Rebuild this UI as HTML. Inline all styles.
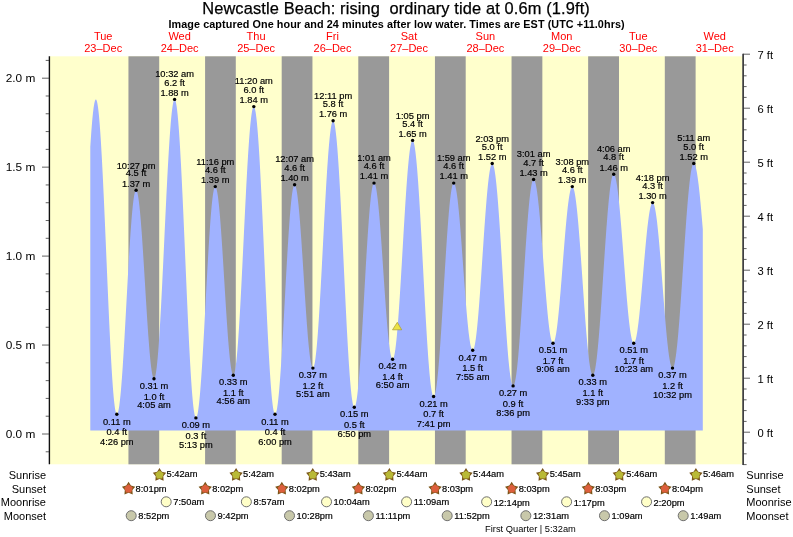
<!DOCTYPE html>
<html><head><meta charset="utf-8"><title>Newcastle Beach tide chart</title>
<style>html,body{margin:0;padding:0;background:#fff}svg{display:block}text{font-family:"Liberation Sans",Arial,Helvetica,sans-serif;fill:#000}.s text{stroke:#000;stroke-width:.18px}</style></head><body>
<svg width="793" height="537" viewBox="0 0 793 537">
<rect width="793" height="537" fill="#fff"/>
<rect x="50" y="56.3" width="692.3" height="408.0" fill="#ffffcc"/>
<rect x="128.44" y="56.3" width="30.76" height="408.0" fill="#999999"/>
<rect x="205.09" y="56.3" width="30.70" height="408.0" fill="#999999"/>
<rect x="281.69" y="56.3" width="30.76" height="408.0" fill="#999999"/>
<rect x="358.29" y="56.3" width="30.81" height="408.0" fill="#999999"/>
<rect x="434.94" y="56.3" width="30.76" height="408.0" fill="#999999"/>
<rect x="511.54" y="56.3" width="30.81" height="408.0" fill="#999999"/>
<rect x="588.14" y="56.3" width="30.86" height="408.0" fill="#999999"/>
<rect x="664.80" y="56.3" width="30.81" height="408.0" fill="#999999"/>
<path d="M90.30,430.5L90.30,146.87L90.63,141.68L90.97,136.75L91.30,132.07L91.63,127.67L91.97,123.56L92.30,119.74L92.63,116.22L92.97,113.03L93.30,110.15L93.63,107.60L93.97,105.39L94.30,103.53L94.63,102.01L94.97,100.84L95.30,100.02L95.63,99.56L95.97,99.46L96.30,99.74L96.64,100.41L96.97,101.47L97.30,102.92L97.64,104.76L97.97,106.98L98.30,109.57L98.64,112.53L98.97,115.85L99.30,119.52L99.64,123.54L99.97,127.89L100.30,132.56L100.64,137.54L100.97,142.82L101.30,148.39L101.64,154.22L101.97,160.32L102.30,166.65L102.64,173.21L102.97,179.98L103.30,186.94L103.64,194.08L103.97,201.37L104.30,208.80L104.64,216.35L104.97,224.01L105.30,231.74L105.64,239.54L105.97,247.38L106.30,255.25L106.64,263.12L106.97,270.97L107.30,278.79L107.64,286.56L107.97,294.25L108.30,301.84L108.64,309.33L108.97,316.68L109.31,323.88L109.64,330.92L109.97,337.77L110.31,344.42L110.64,350.85L110.97,357.05L111.31,362.99L111.64,368.67L111.97,374.07L112.31,379.18L112.64,383.98L112.97,388.47L113.31,392.63L113.64,396.44L113.97,399.91L114.31,403.02L114.64,405.77L114.97,408.14L115.31,410.14L115.64,411.75L115.97,412.97L116.31,413.81L116.64,414.25L116.97,414.31L117.31,414.02L117.64,413.39L117.97,412.44L118.31,411.16L118.64,409.55L118.97,407.63L119.31,405.39L119.64,402.84L119.97,400.00L120.31,396.87L120.64,393.45L120.98,389.76L121.31,385.81L121.64,381.62L121.98,377.18L122.31,372.53L122.64,367.66L122.98,362.60L123.31,357.37L123.64,351.96L123.98,346.41L124.31,340.73L124.64,334.93L124.98,329.04L125.31,323.07L125.64,317.03L125.98,310.95L126.31,304.85L126.64,298.74L126.98,292.63L127.31,286.56L127.64,280.53L127.98,274.57L128.31,268.69L128.64,262.91L128.98,257.25L129.31,251.72L129.64,246.34L129.98,241.13L130.31,236.10L130.64,231.26L130.98,226.64L131.31,222.24L131.64,218.08L131.98,214.17L132.31,210.53L132.64,207.15L132.98,204.06L133.31,201.26L133.65,198.76L133.98,196.57L134.31,194.69L134.65,193.14L134.98,191.90L135.31,191.00L135.65,190.43L135.98,190.19L136.31,190.27L136.65,190.68L136.98,191.41L137.31,192.45L137.65,193.81L137.98,195.47L138.31,197.43L138.65,199.69L138.98,202.24L139.31,205.07L139.65,208.16L139.98,211.52L140.31,215.12L140.65,218.96L140.98,223.02L141.31,227.29L141.65,231.75L141.98,236.39L142.31,241.19L142.65,246.15L142.98,251.23L143.31,256.42L143.65,261.71L143.98,267.08L144.31,272.50L144.65,277.97L144.98,283.46L145.31,288.95L145.65,294.42L145.98,299.87L146.32,305.26L146.65,310.57L146.98,315.81L147.32,320.93L147.65,325.93L147.98,330.79L148.32,335.49L148.65,340.02L148.98,344.37L149.32,348.50L149.65,352.42L149.98,356.11L150.32,359.56L150.65,362.75L150.98,365.68L151.32,368.33L151.65,370.70L151.98,372.77L152.32,374.55L152.65,376.01L152.98,377.17L153.32,378.02L153.65,378.54L153.98,378.75L154.32,378.62L154.65,378.13L154.98,377.28L155.32,376.07L155.65,374.51L155.98,372.60L156.32,370.34L156.65,367.75L156.98,364.82L157.32,361.56L157.65,357.99L157.99,354.11L158.32,349.93L158.65,345.47L158.99,340.73L159.32,335.72L159.65,330.47L159.99,324.98L160.32,319.27L160.65,313.35L160.99,307.24L161.32,300.95L161.65,294.50L161.99,287.91L162.32,281.19L162.65,274.36L162.99,267.44L163.32,260.45L163.65,253.41L163.99,246.32L164.32,239.22L164.65,232.12L164.99,225.03L165.32,217.98L165.65,210.99L165.99,204.07L166.32,197.24L166.65,190.52L166.99,183.92L167.32,177.47L167.65,171.17L167.99,165.05L168.32,159.13L168.65,153.41L168.99,147.91L169.32,142.65L169.65,137.64L169.99,132.89L170.32,128.41L170.66,124.23L170.99,120.34L171.32,116.75L171.66,113.49L171.99,110.55L172.32,107.94L172.66,105.67L172.99,103.74L173.32,102.17L173.66,100.95L173.99,100.09L174.32,99.59L174.66,99.45L174.99,99.69L175.32,100.30L175.66,101.30L175.99,102.68L176.32,104.44L176.66,106.57L176.99,109.06L177.32,111.92L177.66,115.12L177.99,118.68L178.32,122.57L178.66,126.79L178.99,131.33L179.32,136.17L179.66,141.31L179.99,146.74L180.32,152.43L180.66,158.38L180.99,164.57L181.32,170.99L181.66,177.62L181.99,184.45L182.33,191.45L182.66,198.62L182.99,205.93L183.33,213.36L183.66,220.91L183.99,228.55L184.33,236.26L184.66,244.02L184.99,251.82L185.33,259.64L185.66,267.46L185.99,275.25L186.33,283.00L186.66,290.70L186.99,298.31L187.33,305.83L187.66,313.24L187.99,320.52L188.33,327.65L188.66,334.61L188.99,341.39L189.33,347.96L189.66,354.33L189.99,360.46L190.33,366.35L190.66,371.97L190.99,377.33L191.33,382.40L191.66,387.17L191.99,391.63L192.33,395.77L192.66,399.58L192.99,403.04L193.33,406.17L193.66,408.93L193.99,411.33L194.33,413.37L194.66,415.03L195.00,416.32L195.33,417.22L195.66,417.75L196.00,417.89L196.33,417.67L196.66,417.11L197.00,416.22L197.33,414.99L197.66,413.43L198.00,411.54L198.33,409.33L198.66,406.81L199.00,403.97L199.33,400.84L199.66,397.42L200.00,393.72L200.33,389.75L200.66,385.52L201.00,381.05L201.33,376.34L201.66,371.42L202.00,366.29L202.33,360.98L202.66,355.49L203.00,349.85L203.33,344.06L203.66,338.16L204.00,332.14L204.33,326.04L204.66,319.87L205.00,313.65L205.33,307.39L205.66,301.12L206.00,294.86L206.33,288.61L206.66,282.40L207.00,276.26L207.33,270.19L207.67,264.21L208.00,258.34L208.33,252.61L208.67,247.02L209.00,241.59L209.33,236.34L209.67,231.29L210.00,226.44L210.33,221.82L210.67,217.43L211.00,213.30L211.33,209.42L211.67,205.82L212.00,202.50L212.33,199.48L212.67,196.76L213.00,194.34L213.33,192.25L213.67,190.48L214.00,189.04L214.33,187.93L214.67,187.16L215.00,186.72L215.33,186.63L215.67,186.86L216.00,187.40L216.33,188.26L216.67,189.43L217.00,190.90L217.33,192.68L217.67,194.75L218.00,197.11L218.33,199.76L218.67,202.67L219.00,205.85L219.34,209.28L219.67,212.95L220.00,216.84L220.34,220.95L220.67,225.27L221.00,229.77L221.34,234.44L221.67,239.26L222.00,244.23L222.34,249.32L222.67,254.52L223.00,259.80L223.34,265.15L223.67,270.56L224.00,276.00L224.34,281.46L224.67,286.92L225.00,292.36L225.34,297.75L225.67,303.10L226.00,308.36L226.34,313.54L226.67,318.60L227.00,323.54L227.34,328.34L227.67,332.98L228.00,337.44L228.34,341.71L228.67,345.78L229.00,349.63L229.34,353.25L229.67,356.63L230.00,359.76L230.34,362.62L230.67,365.20L231.00,367.51L231.34,369.52L231.67,371.24L232.01,372.65L232.34,373.75L232.67,374.55L233.01,375.03L233.34,375.19L233.67,375.02L234.01,374.50L234.34,373.63L234.67,372.41L235.01,370.84L235.34,368.93L235.67,366.68L236.01,364.10L236.34,361.20L236.67,357.98L237.01,354.46L237.34,350.63L237.67,346.52L238.01,342.13L238.34,337.47L238.67,332.56L239.01,327.41L239.34,322.03L239.67,316.44L240.01,310.65L240.34,304.67L240.67,298.53L241.01,292.24L241.34,285.81L241.67,279.26L242.01,272.61L242.34,265.88L242.67,259.09L243.01,252.24L243.34,245.37L243.68,238.48L244.01,231.60L244.34,224.74L244.68,217.93L245.01,211.18L245.34,204.50L245.68,197.92L246.01,191.45L246.34,185.12L246.68,178.93L247.01,172.90L247.34,167.05L247.68,161.40L248.01,155.95L248.34,150.73L248.68,145.75L249.01,141.01L249.34,136.54L249.68,132.34L250.01,128.43L250.34,124.81L250.68,121.50L251.01,118.50L251.34,115.82L251.68,113.48L252.01,111.46L252.34,109.79L252.68,108.46L253.01,107.48L253.34,106.85L253.68,106.58L254.01,106.66L254.34,107.11L254.68,107.94L255.01,109.13L255.34,110.69L255.68,112.62L256.01,114.90L256.35,117.53L256.68,120.52L257.01,123.84L257.35,127.49L257.68,131.46L258.01,135.75L258.35,140.33L258.68,145.21L259.01,150.37L259.35,155.80L259.68,161.48L260.01,167.39L260.35,173.54L260.68,179.89L261.01,186.44L261.35,193.17L261.68,200.06L262.01,207.10L262.35,214.27L262.68,221.55L263.01,228.92L263.35,236.37L263.68,243.88L264.01,251.43L264.35,259.00L264.68,266.57L265.01,274.13L265.35,281.66L265.68,289.13L266.01,296.54L266.35,303.85L266.68,311.07L267.01,318.16L267.35,325.11L267.68,331.90L268.02,338.52L268.35,344.95L268.68,351.18L269.02,357.18L269.35,362.96L269.68,368.48L270.02,373.74L270.35,378.73L270.68,383.43L271.02,387.83L271.35,391.93L271.68,395.70L272.02,399.15L272.35,402.26L272.68,405.03L273.02,407.45L273.35,409.51L273.68,411.21L274.02,412.54L274.35,413.51L274.68,414.11L275.02,414.33L275.35,414.20L275.68,413.73L276.02,412.94L276.35,411.83L276.68,410.39L277.02,408.63L277.35,406.55L277.68,404.17L278.02,401.49L278.35,398.52L278.68,395.26L279.02,391.72L279.35,387.92L279.68,383.87L280.02,379.57L280.35,375.04L280.69,370.30L281.02,365.35L281.35,360.21L281.69,354.90L282.02,349.43L282.35,343.81L282.69,338.07L283.02,332.22L283.35,326.27L283.69,320.25L284.02,314.17L284.35,308.04L284.69,301.89L285.02,295.74L285.35,289.59L285.69,283.48L286.02,277.41L286.35,271.40L286.69,265.48L287.02,259.65L287.35,253.94L287.69,248.36L288.02,242.92L288.35,237.66L288.69,232.56L289.02,227.67L289.35,222.97L289.69,218.50L290.02,214.27L290.35,210.27L290.69,206.54L291.02,203.07L291.35,199.88L291.69,196.98L292.02,194.37L292.35,192.07L292.69,190.07L293.02,188.39L293.36,187.03L293.69,186.00L294.02,185.29L294.36,184.91L294.69,184.86L295.02,185.11L295.36,185.67L295.69,186.52L296.02,187.67L296.36,189.10L296.69,190.83L297.02,192.83L297.36,195.11L297.69,197.65L298.02,200.45L298.36,203.51L298.69,206.80L299.02,210.31L299.36,214.05L299.69,217.99L300.02,222.12L300.36,226.43L300.69,230.90L301.02,235.53L301.36,240.28L301.69,245.16L302.02,250.13L302.36,255.20L302.69,260.33L303.02,265.52L303.36,270.74L303.69,275.98L304.02,281.22L304.36,286.45L304.69,291.64L305.03,296.79L305.36,301.87L305.69,306.86L306.03,311.75L306.36,316.53L306.69,321.18L307.03,325.68L307.36,330.02L307.69,334.19L308.03,338.16L308.36,341.94L308.69,345.50L309.03,348.83L309.36,351.92L309.69,354.77L310.03,357.37L310.36,359.69L310.69,361.75L311.03,363.52L311.36,365.01L311.69,366.21L312.03,367.12L312.36,367.72L312.69,368.03L313.03,368.04L313.36,367.72L313.69,367.07L314.03,366.09L314.36,364.78L314.69,363.15L315.03,361.20L315.36,358.93L315.69,356.36L316.03,353.49L316.36,350.33L316.69,346.88L317.03,343.16L317.36,339.17L317.70,334.93L318.03,330.44L318.36,325.72L318.70,320.79L319.03,315.65L319.36,310.32L319.70,304.81L320.03,299.14L320.36,293.32L320.70,287.38L321.03,281.31L321.36,275.15L321.70,268.91L322.03,262.60L322.36,256.24L322.70,249.85L323.03,243.44L323.36,237.04L323.70,230.66L324.03,224.31L324.36,218.02L324.70,211.80L325.03,205.66L325.36,199.64L325.70,193.73L326.03,187.95L326.36,182.33L326.70,176.88L327.03,171.61L327.36,166.53L327.70,161.66L328.03,157.01L328.36,152.60L328.70,148.44L329.03,144.53L329.37,140.89L329.70,137.53L330.03,134.46L330.37,131.68L330.70,129.20L331.03,127.04L331.37,125.19L331.70,123.65L332.03,122.45L332.37,121.57L332.70,121.02L333.03,120.80L333.37,120.92L333.70,121.39L334.03,122.20L334.37,123.36L334.70,124.87L335.03,126.71L335.37,128.88L335.70,131.39L336.03,134.22L336.37,137.36L336.70,140.82L337.03,144.57L337.37,148.61L337.70,152.94L338.03,157.53L338.37,162.39L338.70,167.49L339.03,172.82L339.37,178.38L339.70,184.15L340.03,190.11L340.37,196.25L340.70,202.56L341.03,209.02L341.37,215.61L341.70,222.31L342.04,229.12L342.37,236.02L342.70,242.98L343.04,250.00L343.37,257.04L343.70,264.11L344.04,271.17L344.37,278.22L344.70,285.23L345.04,292.19L345.37,299.09L345.70,305.89L346.04,312.60L346.37,319.18L346.70,325.64L347.04,331.94L347.37,338.08L347.70,344.03L348.04,349.79L348.37,355.35L348.70,360.68L349.04,365.77L349.37,370.62L349.70,375.20L350.04,379.52L350.37,383.56L350.70,387.30L351.04,390.74L351.37,393.88L351.70,396.70L352.04,399.19L352.37,401.36L352.70,403.19L353.04,404.69L353.37,405.84L353.71,406.64L354.04,407.10L354.37,407.21L354.71,406.99L355.04,406.46L355.37,405.62L355.71,404.46L356.04,403.00L356.37,401.23L356.71,399.16L357.04,396.80L357.37,394.15L357.71,391.23L358.04,388.03L358.37,384.58L358.71,380.87L359.04,376.92L359.37,372.74L359.71,368.34L360.04,363.73L360.37,358.93L360.71,353.95L361.04,348.81L361.37,343.51L361.71,338.08L362.04,332.53L362.37,326.87L362.71,321.12L363.04,315.30L363.37,309.43L363.71,303.51L364.04,297.57L364.37,291.62L364.71,285.68L365.04,279.77L365.37,273.90L365.71,268.09L366.04,262.36L366.38,256.72L366.71,251.19L367.04,245.78L367.38,240.51L367.71,235.40L368.04,230.45L368.38,225.69L368.71,221.12L369.04,216.76L369.38,212.62L369.71,208.71L370.04,205.05L370.38,201.64L370.71,198.49L371.04,195.62L371.38,193.02L371.71,190.71L372.04,188.70L372.38,186.99L372.71,185.58L373.04,184.48L373.38,183.69L373.71,183.22L374.04,183.06L374.38,183.20L374.71,183.62L375.04,184.32L375.38,185.29L375.71,186.54L376.04,188.05L376.38,189.83L376.71,191.87L377.04,194.17L377.38,196.70L377.71,199.48L378.04,202.48L378.38,205.70L378.71,209.13L379.05,212.75L379.38,216.56L379.71,220.55L380.05,224.69L380.38,228.99L380.71,233.41L381.05,237.96L381.38,242.61L381.71,247.36L382.05,252.18L382.38,257.06L382.71,261.98L383.05,266.94L383.38,271.90L383.71,276.87L384.05,281.81L384.38,286.73L384.71,291.59L385.05,296.39L385.38,301.10L385.71,305.72L386.05,310.24L386.38,314.62L386.71,318.87L387.05,322.97L387.38,326.90L387.71,330.65L388.05,334.22L388.38,337.58L388.71,340.73L389.05,343.66L389.38,346.36L389.71,348.82L390.05,351.04L390.38,353.00L390.72,354.69L391.05,356.13L391.38,357.29L391.72,358.18L392.05,358.79L392.38,359.12L392.72,359.17L393.05,358.92L393.38,358.37L393.72,357.53L394.05,356.38L394.38,354.94L394.72,353.22L395.05,351.20L395.38,348.91L395.72,346.35L396.05,343.51L396.38,340.42L396.72,337.08L397.05,333.50L397.38,329.69L397.72,325.66L398.05,321.42L398.38,316.98L398.72,312.35L399.05,307.56L399.38,302.60L399.72,297.50L400.05,292.27L400.38,286.92L400.72,281.46L401.05,275.92L401.38,270.31L401.72,264.64L402.05,258.93L402.38,253.20L402.72,247.45L403.05,241.72L403.39,236.00L403.72,230.32L404.05,224.70L404.39,219.14L404.72,213.67L405.05,208.30L405.39,203.04L405.72,197.92L406.05,192.93L406.39,188.10L406.72,183.44L407.05,178.97L407.39,174.69L407.72,170.62L408.05,166.76L408.39,163.13L408.72,159.75L409.05,156.61L409.39,153.73L409.72,151.11L410.05,148.76L410.39,146.70L410.72,144.91L411.05,143.42L411.39,142.22L411.72,141.31L412.05,140.71L412.39,140.40L412.72,140.40L413.05,140.72L413.39,141.35L413.72,142.29L414.05,143.54L414.39,145.11L414.72,146.98L415.06,149.15L415.39,151.61L415.72,154.36L416.06,157.40L416.39,160.71L416.72,164.29L417.06,168.12L417.39,172.20L417.72,176.52L418.06,181.07L418.39,185.83L418.72,190.80L419.06,195.96L419.39,201.30L419.72,206.80L420.06,212.46L420.39,218.25L420.72,224.17L421.06,230.20L421.39,236.32L421.72,242.53L422.06,248.79L422.39,255.11L422.72,261.46L423.06,267.82L423.39,274.19L423.72,280.54L424.06,286.87L424.39,293.15L424.72,299.36L425.06,305.50L425.39,311.55L425.72,317.49L426.06,323.31L426.39,329.00L426.72,334.54L427.06,339.91L427.39,345.10L427.73,350.11L428.06,354.91L428.39,359.50L428.73,363.87L429.06,368.00L429.39,371.88L429.73,375.51L430.06,378.87L430.39,381.96L430.73,384.77L431.06,387.30L431.39,389.52L431.73,391.45L432.06,393.08L432.39,394.39L432.73,395.40L433.06,396.09L433.39,396.47L433.73,396.53L434.06,396.29L434.39,395.77L434.73,394.96L435.06,393.86L435.39,392.48L435.73,390.82L436.06,388.89L436.39,386.69L436.73,384.23L437.06,381.51L437.39,378.54L437.73,375.33L438.06,371.89L438.39,368.22L438.73,364.34L439.06,360.27L439.39,356.00L439.73,351.55L440.06,346.93L440.40,342.16L440.73,337.24L441.06,332.20L441.40,327.04L441.73,321.78L442.06,316.43L442.40,311.02L442.73,305.54L443.06,300.02L443.40,294.47L443.73,288.92L444.06,283.36L444.40,277.82L444.73,272.31L445.06,266.85L445.40,261.46L445.73,256.14L446.06,250.91L446.40,245.78L446.73,240.78L447.06,235.91L447.40,231.19L447.73,226.62L448.06,222.23L448.40,218.02L448.73,214.00L449.06,210.19L449.40,206.60L449.73,203.23L450.06,200.09L450.40,197.20L450.73,194.56L451.06,192.18L451.40,190.07L451.73,188.22L452.07,186.65L452.40,185.36L452.73,184.36L453.07,183.64L453.40,183.20L453.73,183.06L454.07,183.19L454.40,183.58L454.73,184.21L455.07,185.11L455.40,186.25L455.73,187.63L456.07,189.26L456.40,191.13L456.73,193.22L457.07,195.54L457.40,198.08L457.73,200.83L458.07,203.78L458.40,206.92L458.73,210.25L459.07,213.75L459.40,217.41L459.73,221.22L460.07,225.17L460.40,229.24L460.73,233.43L461.07,237.72L461.40,242.11L461.73,246.56L462.07,251.08L462.40,255.64L462.73,260.24L463.07,264.86L463.40,269.49L463.73,274.10L464.07,278.69L464.40,283.25L464.74,287.76L465.07,292.20L465.40,296.56L465.74,300.83L466.07,305.00L466.40,309.05L466.74,312.97L467.07,316.75L467.40,320.37L467.74,323.83L468.07,327.12L468.40,330.22L468.74,333.13L469.07,335.83L469.40,338.32L469.74,340.60L470.07,342.64L470.40,344.46L470.74,346.04L471.07,347.37L471.40,348.46L471.74,349.29L472.07,349.88L472.40,350.21L472.74,350.28L473.07,350.09L473.40,349.63L473.74,348.91L474.07,347.93L474.40,346.68L474.74,345.18L475.07,343.42L475.40,341.42L475.74,339.17L476.07,336.69L476.41,333.98L476.74,331.05L477.07,327.91L477.41,324.56L477.74,321.02L478.07,317.30L478.41,313.40L478.74,309.35L479.07,305.14L479.41,300.79L479.74,296.32L480.07,291.74L480.41,287.05L480.74,282.28L481.07,277.44L481.41,272.53L481.74,267.59L482.07,262.61L482.41,257.62L482.74,252.62L483.07,247.64L483.41,242.68L483.74,237.76L484.07,232.90L484.41,228.11L484.74,223.39L485.07,218.78L485.41,214.27L485.74,209.89L486.07,205.64L486.41,201.54L486.74,197.59L487.07,193.82L487.41,190.22L487.74,186.82L488.07,183.62L488.41,180.63L488.74,177.85L489.08,175.30L489.41,172.99L489.74,170.91L490.08,169.09L490.41,167.51L490.74,166.19L491.08,165.13L491.41,164.33L491.74,163.79L492.08,163.53L492.41,163.53L492.74,163.81L493.08,164.36L493.41,165.20L493.74,166.31L494.08,167.69L494.41,169.34L494.74,171.25L495.08,173.42L495.41,175.85L495.74,178.53L496.08,181.44L496.41,184.59L496.74,187.97L497.08,191.57L497.41,195.37L497.74,199.37L498.08,203.56L498.41,207.93L498.74,212.47L499.08,217.17L499.41,222.00L499.74,226.97L500.08,232.06L500.41,237.26L500.75,242.55L501.08,247.92L501.41,253.36L501.75,258.85L502.08,264.39L502.41,269.94L502.75,275.51L503.08,281.08L503.41,286.63L503.75,292.15L504.08,297.63L504.41,303.05L504.75,308.40L505.08,313.67L505.41,318.83L505.75,323.89L506.08,328.82L506.41,333.62L506.75,338.26L507.08,342.75L507.41,347.07L507.75,351.21L508.08,355.15L508.41,358.89L508.75,362.42L509.08,365.73L509.41,368.81L509.75,371.66L510.08,374.26L510.41,376.61L510.75,378.71L511.08,380.55L511.41,382.11L511.75,383.41L512.08,384.44L512.41,385.19L512.75,385.67L513.08,385.86L513.42,385.78L513.75,385.43L514.08,384.81L514.42,383.92L514.75,382.77L515.08,381.36L515.42,379.69L515.75,377.76L516.08,375.59L516.42,373.17L516.75,370.52L517.08,367.64L517.42,364.53L517.75,361.21L518.08,357.69L518.42,353.97L518.75,350.06L519.08,345.98L519.42,341.73L519.75,337.33L520.08,332.78L520.42,328.10L520.75,323.31L521.08,318.40L521.42,313.41L521.75,308.33L522.08,303.19L522.42,297.99L522.75,292.76L523.08,287.49L523.42,282.22L523.75,276.94L524.08,271.68L524.42,266.45L524.75,261.26L525.08,256.13L525.42,251.07L525.75,246.09L526.09,241.20L526.42,236.43L526.75,231.77L527.09,227.25L527.42,222.88L527.75,218.65L528.09,214.60L528.42,210.73L528.75,207.04L529.09,203.55L529.42,200.27L529.75,197.20L530.09,194.36L530.42,191.75L530.75,189.38L531.09,187.25L531.42,185.37L531.75,183.74L532.09,182.37L532.42,181.27L532.75,180.43L533.09,179.86L533.42,179.56L533.75,179.52L534.09,179.73L534.42,180.18L534.75,180.86L535.09,181.77L535.42,182.92L535.75,184.30L536.09,185.90L536.42,187.72L536.75,189.75L537.09,192.00L537.42,194.44L537.76,197.08L538.09,199.91L538.42,202.91L538.76,206.09L539.09,209.42L539.42,212.91L539.76,216.53L540.09,220.29L540.42,224.17L540.76,228.16L541.09,232.24L541.42,236.40L541.76,240.64L542.09,244.94L542.42,249.29L542.76,253.67L543.09,258.08L543.42,262.49L543.76,266.90L544.09,271.30L544.42,275.66L544.76,279.98L545.09,284.25L545.42,288.46L545.76,292.58L546.09,296.61L546.42,300.54L546.76,304.36L547.09,308.05L547.42,311.61L547.76,315.02L548.09,318.27L548.42,321.36L548.76,324.27L549.09,327.00L549.42,329.54L549.76,331.88L550.09,334.01L550.43,335.93L550.76,337.64L551.09,339.12L551.43,340.38L551.76,341.41L552.09,342.20L552.43,342.76L552.76,343.08L553.09,343.17L553.43,343.02L553.76,342.64L554.09,342.03L554.43,341.19L554.76,340.13L555.09,338.84L555.43,337.33L555.76,335.61L556.09,333.68L556.43,331.55L556.76,329.22L557.09,326.70L557.43,324.00L557.76,321.12L558.09,318.08L558.43,314.87L558.76,311.52L559.09,308.04L559.43,304.42L559.76,300.69L560.09,296.85L560.43,292.92L560.76,288.91L561.09,284.82L561.43,280.67L561.76,276.48L562.10,272.26L562.43,268.01L562.76,263.75L563.10,259.50L563.43,255.26L563.76,251.05L564.10,246.88L564.43,242.77L564.76,238.72L565.10,234.75L565.43,230.86L565.76,227.08L566.10,223.41L566.43,219.86L566.76,216.45L567.10,213.18L567.43,210.06L567.76,207.10L568.10,204.32L568.43,201.71L568.76,199.29L569.10,197.07L569.43,195.04L569.76,193.23L570.10,191.62L570.43,190.23L570.76,189.07L571.10,188.12L571.43,187.41L571.76,186.92L572.10,186.66L572.43,186.64L572.76,186.86L573.10,187.32L573.43,188.03L573.76,188.99L574.10,190.18L574.43,191.61L574.77,193.28L575.10,195.17L575.43,197.29L575.77,199.63L576.10,202.18L576.43,204.93L576.77,207.89L577.10,211.03L577.43,214.36L577.77,217.86L578.10,221.53L578.43,225.35L578.77,229.32L579.10,233.42L579.43,237.64L579.77,241.98L580.10,246.43L580.43,250.96L580.77,255.57L581.10,260.24L581.43,264.97L581.77,269.75L582.10,274.55L582.43,279.36L582.77,284.19L583.10,289.00L583.43,293.79L583.77,298.55L584.10,303.26L584.43,307.92L584.77,312.50L585.10,317.00L585.43,321.41L585.77,325.71L586.10,329.89L586.44,333.94L586.77,337.86L587.10,341.63L587.44,345.23L587.77,348.67L588.10,351.94L588.44,355.01L588.77,357.90L589.10,360.58L589.44,363.05L589.77,365.31L590.10,367.35L590.44,369.16L590.77,370.74L591.10,372.09L591.44,373.20L591.77,374.06L592.10,374.68L592.44,375.06L592.77,375.19L593.10,375.07L593.44,374.70L593.77,374.08L594.10,373.21L594.44,372.09L594.77,370.73L595.10,369.13L595.44,367.29L595.77,365.21L596.10,362.91L596.44,360.39L596.77,357.65L597.10,354.71L597.44,351.56L597.77,348.22L598.10,344.70L598.44,341.00L598.77,337.13L599.11,333.11L599.44,328.94L599.77,324.63L600.11,320.20L600.44,315.66L600.77,311.01L601.11,306.27L601.44,301.45L601.77,296.57L602.11,291.62L602.44,286.64L602.77,281.63L603.11,276.60L603.44,271.56L603.77,266.53L604.11,261.53L604.44,256.55L604.77,251.62L605.11,246.75L605.44,241.95L605.77,237.23L606.11,232.61L606.44,228.09L606.77,223.69L607.11,219.41L607.44,215.28L607.77,211.29L608.11,207.46L608.44,203.80L608.77,200.32L609.11,197.03L609.44,193.93L609.77,191.03L610.11,188.35L610.44,185.88L610.77,183.63L611.11,181.61L611.44,179.83L611.78,178.28L612.11,176.98L612.44,175.92L612.78,175.11L613.11,174.54L613.44,174.23L613.78,174.17L614.11,174.35L614.44,174.76L614.78,175.40L615.11,176.26L615.44,177.35L615.78,178.66L616.11,180.19L616.44,181.93L616.78,183.88L617.11,186.03L617.44,188.39L617.78,190.93L618.11,193.66L618.44,196.57L618.78,199.65L619.11,202.89L619.44,206.28L619.78,209.81L620.11,213.48L620.44,217.26L620.78,221.17L621.11,225.17L621.44,229.27L621.78,233.44L622.11,237.69L622.44,241.99L622.78,246.34L623.11,250.72L623.45,255.12L623.78,259.54L624.11,263.95L624.45,268.34L624.78,272.71L625.11,277.04L625.45,281.32L625.78,285.54L626.11,289.69L626.45,293.75L626.78,297.72L627.11,301.58L627.45,305.32L627.78,308.93L628.11,312.41L628.45,315.74L628.78,318.92L629.11,321.93L629.45,324.77L629.78,327.43L630.11,329.90L630.45,332.17L630.78,334.25L631.11,336.12L631.45,337.78L631.78,339.22L632.11,340.44L632.45,341.44L632.78,342.22L633.11,342.77L633.45,343.08L633.78,343.17L634.11,343.03L634.45,342.68L634.78,342.12L635.11,341.34L635.45,340.35L635.78,339.16L636.12,337.76L636.45,336.16L636.78,334.36L637.12,332.38L637.45,330.21L637.78,327.87L638.12,325.36L638.45,322.69L638.78,319.86L639.12,316.89L639.45,313.79L639.78,310.56L640.12,307.21L640.45,303.76L640.78,300.21L641.12,296.58L641.45,292.87L641.78,289.11L642.12,285.29L642.45,281.44L642.78,277.56L643.12,273.66L643.45,269.76L643.78,265.88L644.12,262.01L644.45,258.18L644.78,254.39L645.12,250.66L645.45,247.00L645.78,243.42L646.12,239.93L646.45,236.54L646.78,233.26L647.12,230.11L647.45,227.08L647.79,224.20L648.12,221.46L648.45,218.89L648.79,216.48L649.12,214.24L649.45,212.19L649.79,210.32L650.12,208.64L650.45,207.17L650.79,205.89L651.12,204.82L651.45,203.96L651.79,203.31L652.12,202.88L652.45,202.66L652.79,202.66L653.12,202.88L653.45,203.34L653.79,204.02L654.12,204.93L654.45,206.06L654.79,207.41L655.12,208.97L655.45,210.75L655.79,212.74L656.12,214.92L656.45,217.30L656.79,219.87L657.12,222.62L657.45,225.55L657.79,228.64L658.12,231.89L658.45,235.28L658.79,238.82L659.12,242.48L659.45,246.26L659.79,250.16L660.12,254.14L660.46,258.22L660.79,262.37L661.12,266.58L661.46,270.85L661.79,275.16L662.12,279.49L662.46,283.84L662.79,288.20L663.12,292.54L663.46,296.87L663.79,301.16L664.12,305.42L664.46,309.61L664.79,313.74L665.12,317.79L665.46,321.75L665.79,325.61L666.12,329.36L666.46,332.98L666.79,336.48L667.12,339.83L667.46,343.03L667.79,346.07L668.12,348.94L668.46,351.64L668.79,354.15L669.12,356.47L669.46,358.60L669.79,360.52L670.12,362.23L670.46,363.73L670.79,365.02L671.12,366.08L671.46,366.92L671.79,367.53L672.12,367.92L672.46,368.07L672.79,367.99L673.13,367.67L673.46,367.09L673.79,366.27L674.13,365.20L674.46,363.89L674.79,362.34L675.13,360.56L675.46,358.54L675.79,356.30L676.13,353.84L676.46,351.16L676.79,348.28L677.13,345.20L677.46,341.92L677.79,338.46L678.13,334.82L678.46,331.01L678.79,327.04L679.13,322.93L679.46,318.67L679.79,314.29L680.13,309.78L680.46,305.18L680.79,300.47L681.13,295.68L681.46,290.82L681.79,285.89L682.13,280.92L682.46,275.91L682.79,270.88L683.13,265.83L683.46,260.79L683.79,255.75L684.13,250.74L684.46,245.77L684.80,240.85L685.13,235.98L685.46,231.19L685.80,226.48L686.13,221.87L686.46,217.37L686.80,212.98L687.13,208.72L687.46,204.61L687.80,200.64L688.13,196.82L688.46,193.18L688.80,189.71L689.13,186.43L689.46,183.35L689.80,180.46L690.13,177.78L690.46,175.31L690.80,173.07L691.13,171.05L691.46,169.26L691.80,167.71L692.13,166.39L692.46,165.32L692.80,164.49L693.13,163.91L693.46,163.58L693.80,163.49L694.13,163.63L694.46,163.98L694.80,164.53L695.13,165.29L695.46,166.25L695.80,167.41L696.13,168.78L696.46,170.33L696.80,172.08L697.13,174.01L697.47,176.13L697.80,178.42L698.13,180.89L698.47,183.52L698.80,186.31L699.13,189.24L699.47,192.33L699.80,195.55L700.13,198.89L700.47,202.36L700.80,205.94L701.13,209.62L701.47,213.40L701.80,217.26L702.13,221.19L702.47,225.19L702.80,229.24L702.80,430.5Z" fill="#a0b2ff"/>
<g stroke="#111" stroke-width="1.4" fill="none">
<line x1="49.4" y1="56.3" x2="49.4" y2="464.3"/>
<line x1="743.1" y1="53.7" x2="743.1" y2="464.90000000000003"/>
</g>
<g stroke="#3a3a3a" stroke-width="0.8" fill="none">
<line x1="45.7" y1="451.79" x2="49" y2="451.79"/>
<line x1="42" y1="434.00" x2="49" y2="434.00"/>
<line x1="45.7" y1="416.21" x2="49" y2="416.21"/>
<line x1="45.7" y1="398.42" x2="49" y2="398.42"/>
<line x1="45.7" y1="380.63" x2="49" y2="380.63"/>
<line x1="45.7" y1="362.84" x2="49" y2="362.84"/>
<line x1="42" y1="345.05" x2="49" y2="345.05"/>
<line x1="45.7" y1="327.26" x2="49" y2="327.26"/>
<line x1="45.7" y1="309.47" x2="49" y2="309.47"/>
<line x1="45.7" y1="291.68" x2="49" y2="291.68"/>
<line x1="45.7" y1="273.89" x2="49" y2="273.89"/>
<line x1="42" y1="256.10" x2="49" y2="256.10"/>
<line x1="45.7" y1="238.31" x2="49" y2="238.31"/>
<line x1="45.7" y1="220.52" x2="49" y2="220.52"/>
<line x1="45.7" y1="202.73" x2="49" y2="202.73"/>
<line x1="45.7" y1="184.94" x2="49" y2="184.94"/>
<line x1="42" y1="167.15" x2="49" y2="167.15"/>
<line x1="45.7" y1="149.36" x2="49" y2="149.36"/>
<line x1="45.7" y1="131.57" x2="49" y2="131.57"/>
<line x1="45.7" y1="113.78" x2="49" y2="113.78"/>
<line x1="45.7" y1="95.99" x2="49" y2="95.99"/>
<line x1="42" y1="78.20" x2="49" y2="78.20"/>
<line x1="45.7" y1="60.41" x2="49" y2="60.41"/>
<line x1="743" y1="464.60" x2="746.6" y2="464.60"/>
<line x1="743" y1="453.80" x2="746.6" y2="453.80"/>
<line x1="743" y1="443.00" x2="746.6" y2="443.00"/>
<line x1="743" y1="432.20" x2="750" y2="432.20"/>
<line x1="743" y1="421.40" x2="746.6" y2="421.40"/>
<line x1="743" y1="410.60" x2="746.6" y2="410.60"/>
<line x1="743" y1="399.80" x2="746.6" y2="399.80"/>
<line x1="743" y1="389.00" x2="746.6" y2="389.00"/>
<line x1="743" y1="378.20" x2="750" y2="378.20"/>
<line x1="743" y1="367.40" x2="746.6" y2="367.40"/>
<line x1="743" y1="356.60" x2="746.6" y2="356.60"/>
<line x1="743" y1="345.80" x2="746.6" y2="345.80"/>
<line x1="743" y1="335.00" x2="746.6" y2="335.00"/>
<line x1="743" y1="324.20" x2="750" y2="324.20"/>
<line x1="743" y1="313.40" x2="746.6" y2="313.40"/>
<line x1="743" y1="302.60" x2="746.6" y2="302.60"/>
<line x1="743" y1="291.80" x2="746.6" y2="291.80"/>
<line x1="743" y1="281.00" x2="746.6" y2="281.00"/>
<line x1="743" y1="270.20" x2="750" y2="270.20"/>
<line x1="743" y1="259.40" x2="746.6" y2="259.40"/>
<line x1="743" y1="248.60" x2="746.6" y2="248.60"/>
<line x1="743" y1="237.80" x2="746.6" y2="237.80"/>
<line x1="743" y1="227.00" x2="746.6" y2="227.00"/>
<line x1="743" y1="216.20" x2="750" y2="216.20"/>
<line x1="743" y1="205.40" x2="746.6" y2="205.40"/>
<line x1="743" y1="194.60" x2="746.6" y2="194.60"/>
<line x1="743" y1="183.80" x2="746.6" y2="183.80"/>
<line x1="743" y1="173.00" x2="746.6" y2="173.00"/>
<line x1="743" y1="162.20" x2="750" y2="162.20"/>
<line x1="743" y1="151.40" x2="746.6" y2="151.40"/>
<line x1="743" y1="140.60" x2="746.6" y2="140.60"/>
<line x1="743" y1="129.80" x2="746.6" y2="129.80"/>
<line x1="743" y1="119.00" x2="746.6" y2="119.00"/>
<line x1="743" y1="108.20" x2="750" y2="108.20"/>
<line x1="743" y1="97.40" x2="746.6" y2="97.40"/>
<line x1="743" y1="86.60" x2="746.6" y2="86.60"/>
<line x1="743" y1="75.80" x2="746.6" y2="75.80"/>
<line x1="743" y1="65.00" x2="746.6" y2="65.00"/>
<line x1="743" y1="54.20" x2="750" y2="54.20"/>
</g>
<g font-size="11.5" text-anchor="end">
<text x="35.3" y="438.2" textLength="29.6" lengthAdjust="spacingAndGlyphs">0.0 m</text>
<text x="35.3" y="349.2" textLength="29.6" lengthAdjust="spacingAndGlyphs">0.5 m</text>
<text x="35.3" y="260.3" textLength="29.6" lengthAdjust="spacingAndGlyphs">1.0 m</text>
<text x="35.3" y="171.3" textLength="29.6" lengthAdjust="spacingAndGlyphs">1.5 m</text>
<text x="35.3" y="82.4" textLength="29.6" lengthAdjust="spacingAndGlyphs">2.0 m</text>
</g>
<g font-size="11.2">
<text x="757.5" y="436.8">0 ft</text>
<text x="757.5" y="382.8">1 ft</text>
<text x="757.5" y="328.8">2 ft</text>
<text x="757.5" y="274.8">3 ft</text>
<text x="757.5" y="220.8">4 ft</text>
<text x="757.5" y="166.8">5 ft</text>
<text x="757.5" y="112.7">6 ft</text>
<text x="757.5" y="58.7">7 ft</text>
</g>
<text x="396" y="13.7" font-size="16.4" stroke="#000" stroke-width="0.25" text-anchor="middle" xml:space="preserve" textLength="387.6" lengthAdjust="spacing">Newcastle Beach: rising  ordinary tide at 0.6m (1.9ft)</text>
<text x="396.55" y="27.8" font-size="10.8" font-weight="bold" text-anchor="middle" textLength="456.1" lengthAdjust="spacing">Image captured One hour and 24 minutes after low water. Times are EST (UTC +11.0hrs)</text>
<g font-size="11" text-anchor="middle" style="fill:#ff0000">
<text x="103.2" y="40.1" style="fill:#f00">Tue</text><text x="103.2" y="51.6" style="fill:#f00">23–Dec</text>
<text x="179.6" y="40.1" style="fill:#f00">Wed</text><text x="179.6" y="51.6" style="fill:#f00">24–Dec</text>
<text x="256.1" y="40.1" style="fill:#f00">Thu</text><text x="256.1" y="51.6" style="fill:#f00">25–Dec</text>
<text x="332.5" y="40.1" style="fill:#f00">Fri</text><text x="332.5" y="51.6" style="fill:#f00">26–Dec</text>
<text x="409.0" y="40.1" style="fill:#f00">Sat</text><text x="409.0" y="51.6" style="fill:#f00">27–Dec</text>
<text x="485.4" y="40.1" style="fill:#f00">Sun</text><text x="485.4" y="51.6" style="fill:#f00">28–Dec</text>
<text x="561.8" y="40.1" style="fill:#f00">Mon</text><text x="561.8" y="51.6" style="fill:#f00">29–Dec</text>
<text x="638.3" y="40.1" style="fill:#f00">Tue</text><text x="638.3" y="51.6" style="fill:#f00">30–Dec</text>
<text x="714.7" y="40.1" style="fill:#f00">Wed</text><text x="714.7" y="51.6" style="fill:#f00">31–Dec</text>
</g>
<g class="s" font-size="9.3" text-anchor="middle">
<text x="116.8" y="424.5">0.11 m</text><text x="116.8" y="435.1">0.4 ft</text><text x="116.8" y="444.5">4:26 pm</text>
<text x="136.1" y="168.6">10:27 pm</text><text x="136.1" y="176.3">4.5 ft</text><text x="136.1" y="186.5">1.37 m</text>
<text x="154.0" y="389.0">0.31 m</text><text x="154.0" y="399.6">1.0 ft</text><text x="154.0" y="408.0">4:05 am</text>
<text x="174.6" y="76.9">10:32 am</text><text x="174.6" y="85.5">6.2 ft</text><text x="174.6" y="95.7">1.88 m</text>
<text x="195.9" y="428.1">0.09 m</text><text x="195.9" y="438.7">0.3 ft</text><text x="195.9" y="448.1">5:13 pm</text>
<text x="215.3" y="165.0">11:16 pm</text><text x="215.3" y="172.7">4.6 ft</text><text x="215.3" y="182.9">1.39 m</text>
<text x="233.3" y="385.4">0.33 m</text><text x="233.3" y="396.0">1.1 ft</text><text x="233.3" y="404.4">4:56 am</text>
<text x="253.8" y="84.1">11:20 am</text><text x="253.8" y="92.7">6.0 ft</text><text x="253.8" y="102.9">1.84 m</text>
<text x="275.0" y="424.5">0.11 m</text><text x="275.0" y="435.1">0.4 ft</text><text x="275.0" y="444.5">6:00 pm</text>
<text x="294.6" y="162.3">12:07 am</text><text x="294.6" y="170.9">4.6 ft</text><text x="294.6" y="181.1">1.40 m</text>
<text x="312.9" y="378.3">0.37 m</text><text x="312.9" y="388.9">1.2 ft</text><text x="312.9" y="397.3">5:51 am</text>
<text x="333.1" y="99.2">12:11 pm</text><text x="333.1" y="106.9">5.8 ft</text><text x="333.1" y="117.1">1.76 m</text>
<text x="354.3" y="417.4">0.15 m</text><text x="354.3" y="428.0">0.5 ft</text><text x="354.3" y="437.4">6:50 pm</text>
<text x="374.0" y="160.6">1:01 am</text><text x="374.0" y="169.2">4.6 ft</text><text x="374.0" y="179.4">1.41 m</text>
<text x="392.6" y="369.4">0.42 m</text><text x="392.6" y="380.0">1.4 ft</text><text x="392.6" y="388.4">6:50 am</text>
<text x="412.6" y="118.8">1:05 pm</text><text x="412.6" y="126.5">5.4 ft</text><text x="412.6" y="136.7">1.65 m</text>
<text x="433.6" y="406.7">0.21 m</text><text x="433.6" y="417.3">0.7 ft</text><text x="433.6" y="426.7">7:41 pm</text>
<text x="453.7" y="160.6">1:59 am</text><text x="453.7" y="169.2">4.6 ft</text><text x="453.7" y="179.4">1.41 m</text>
<text x="472.7" y="360.5">0.47 m</text><text x="472.7" y="371.1">1.5 ft</text><text x="472.7" y="379.5">7:55 am</text>
<text x="492.2" y="141.9">2:03 pm</text><text x="492.2" y="149.6">5.0 ft</text><text x="492.2" y="159.8">1.52 m</text>
<text x="513.1" y="396.1">0.27 m</text><text x="513.1" y="406.7">0.9 ft</text><text x="513.1" y="416.1">8:36 pm</text>
<text x="533.6" y="157.0">3:01 am</text><text x="533.6" y="165.6">4.7 ft</text><text x="533.6" y="175.8">1.43 m</text>
<text x="553.0" y="353.4">0.51 m</text><text x="553.0" y="364.0">1.7 ft</text><text x="553.0" y="372.4">9:06 am</text>
<text x="572.3" y="165.0">3:08 pm</text><text x="572.3" y="172.7">4.6 ft</text><text x="572.3" y="182.9">1.39 m</text>
<text x="592.8" y="385.4">0.33 m</text><text x="592.8" y="396.0">1.1 ft</text><text x="592.8" y="405.4">9:33 pm</text>
<text x="613.7" y="151.7">4:06 am</text><text x="613.7" y="160.3">4.8 ft</text><text x="613.7" y="170.5">1.46 m</text>
<text x="633.7" y="353.4">0.51 m</text><text x="633.7" y="364.0">1.7 ft</text><text x="633.7" y="372.4">10:23 am</text>
<text x="652.6" y="181.0">4:18 pm</text><text x="652.6" y="188.7">4.3 ft</text><text x="652.6" y="198.9">1.30 m</text>
<text x="672.5" y="378.3">0.37 m</text><text x="672.5" y="388.9">1.2 ft</text><text x="672.5" y="398.3">10:32 pm</text>
<text x="693.7" y="141.0">5:11 am</text><text x="693.7" y="149.6">5.0 ft</text><text x="693.7" y="159.8">1.52 m</text>
</g>
<circle cx="116.8" cy="414.3" r="1.7" fill="#000"/>
<circle cx="136.1" cy="190.2" r="1.7" fill="#000"/>
<circle cx="154.0" cy="378.8" r="1.7" fill="#000"/>
<circle cx="174.6" cy="99.4" r="1.7" fill="#000"/>
<circle cx="195.9" cy="417.9" r="1.7" fill="#000"/>
<circle cx="215.3" cy="186.6" r="1.7" fill="#000"/>
<circle cx="233.3" cy="375.2" r="1.7" fill="#000"/>
<circle cx="253.8" cy="106.6" r="1.7" fill="#000"/>
<circle cx="275.0" cy="414.3" r="1.7" fill="#000"/>
<circle cx="294.6" cy="184.8" r="1.7" fill="#000"/>
<circle cx="312.9" cy="368.1" r="1.7" fill="#000"/>
<circle cx="333.1" cy="120.8" r="1.7" fill="#000"/>
<circle cx="354.3" cy="407.2" r="1.7" fill="#000"/>
<circle cx="374.0" cy="183.1" r="1.7" fill="#000"/>
<circle cx="392.6" cy="359.2" r="1.7" fill="#000"/>
<circle cx="412.6" cy="140.4" r="1.7" fill="#000"/>
<circle cx="433.6" cy="396.5" r="1.7" fill="#000"/>
<circle cx="453.7" cy="183.1" r="1.7" fill="#000"/>
<circle cx="472.7" cy="350.3" r="1.7" fill="#000"/>
<circle cx="492.2" cy="163.5" r="1.7" fill="#000"/>
<circle cx="513.1" cy="385.9" r="1.7" fill="#000"/>
<circle cx="533.6" cy="179.5" r="1.7" fill="#000"/>
<circle cx="553.0" cy="343.2" r="1.7" fill="#000"/>
<circle cx="572.3" cy="186.6" r="1.7" fill="#000"/>
<circle cx="592.8" cy="375.2" r="1.7" fill="#000"/>
<circle cx="613.7" cy="174.2" r="1.7" fill="#000"/>
<circle cx="633.7" cy="343.2" r="1.7" fill="#000"/>
<circle cx="652.6" cy="202.6" r="1.7" fill="#000"/>
<circle cx="672.5" cy="368.1" r="1.7" fill="#000"/>
<circle cx="693.7" cy="163.5" r="1.7" fill="#000"/>
<path d="M397.3,322.3 L401.7,329.8 L392.5,329.8Z" fill="#ebe244" stroke="#a89a30" stroke-width="0.7"/>
<g class="s" font-size="9.3">
<polygon points="159.49,468.00 161.84,471.76 166.15,472.84 163.30,476.24 163.61,480.66 159.49,479.00 155.38,480.66 155.69,476.24 152.84,472.84 157.14,471.76" fill="#7a5518"/><polygon points="159.49,470.55 163.72,473.62 162.11,478.60 156.88,478.60 155.26,473.62" fill="#b9b936"/>
<text x="166.5" y="477.4">5:42am</text>
<polygon points="236.09,468.00 238.44,471.76 242.75,472.84 239.90,476.24 240.21,480.66 236.09,479.00 231.98,480.66 232.29,476.24 229.44,472.84 233.74,471.76" fill="#7a5518"/><polygon points="236.09,470.55 240.32,473.62 238.71,478.60 233.48,478.60 231.86,473.62" fill="#b9b936"/>
<text x="243.1" y="477.4">5:42am</text>
<polygon points="312.75,468.00 315.10,471.76 319.40,472.84 316.55,476.24 316.86,480.66 312.75,479.00 308.63,480.66 308.94,476.24 306.09,472.84 310.39,471.76" fill="#7a5518"/><polygon points="312.75,470.55 316.98,473.62 315.36,478.60 310.13,478.60 308.51,473.62" fill="#b9b936"/>
<text x="319.7" y="477.4">5:43am</text>
<polygon points="389.40,468.00 391.75,471.76 396.06,472.84 393.20,476.24 393.51,480.66 389.40,479.00 385.28,480.66 385.59,476.24 382.74,472.84 387.05,471.76" fill="#7a5518"/><polygon points="389.40,470.55 393.63,473.62 392.01,478.60 386.78,478.60 385.17,473.62" fill="#b9b936"/>
<text x="396.4" y="477.4">5:44am</text>
<polygon points="466.00,468.00 468.35,471.76 472.66,472.84 469.80,476.24 470.11,480.66 466.00,479.00 461.88,480.66 462.19,476.24 459.34,472.84 463.65,471.76" fill="#7a5518"/><polygon points="466.00,470.55 470.23,473.62 468.61,478.60 463.38,478.60 461.77,473.62" fill="#b9b936"/>
<text x="473.0" y="477.4">5:44am</text>
<polygon points="542.65,468.00 545.00,471.76 549.31,472.84 546.46,476.24 546.77,480.66 542.65,479.00 538.54,480.66 538.85,476.24 535.99,472.84 540.30,471.76" fill="#7a5518"/><polygon points="542.65,470.55 546.88,473.62 545.27,478.60 540.04,478.60 538.42,473.62" fill="#b9b936"/>
<text x="549.7" y="477.4">5:45am</text>
<polygon points="619.31,468.00 621.66,471.76 625.96,472.84 623.11,476.24 623.42,480.66 619.31,479.00 615.19,480.66 615.50,476.24 612.65,472.84 616.95,471.76" fill="#7a5518"/><polygon points="619.31,470.55 623.54,473.62 621.92,478.60 616.69,478.60 615.07,473.62" fill="#b9b936"/>
<text x="626.3" y="477.4">5:46am</text>
<polygon points="695.91,468.00 698.26,471.76 702.56,472.84 699.71,476.24 700.02,480.66 695.91,479.00 691.79,480.66 692.10,476.24 689.25,472.84 693.55,471.76" fill="#7a5518"/><polygon points="695.91,470.55 700.14,473.62 698.52,478.60 693.29,478.60 691.67,473.62" fill="#b9b936"/>
<text x="702.9" y="477.4">5:46am</text>
<polygon points="128.59,481.80 130.94,485.56 135.24,486.64 132.39,490.04 132.70,494.46 128.59,492.80 124.47,494.46 124.78,490.04 121.93,486.64 126.24,485.56" fill="#7a5518"/><polygon points="128.59,484.35 132.82,487.42 131.20,492.40 125.97,492.40 124.35,487.42" fill="#dc5f3c"/>
<text x="135.6" y="492.4">8:01pm</text>
<polygon points="205.24,481.80 207.59,485.56 211.90,486.64 209.04,490.04 209.35,494.46 205.24,492.80 201.13,494.46 201.44,490.04 198.58,486.64 202.89,485.56" fill="#7a5518"/><polygon points="205.24,484.35 209.47,487.42 207.86,492.40 202.62,492.40 201.01,487.42" fill="#dc5f3c"/>
<text x="212.2" y="492.4">8:02pm</text>
<polygon points="281.84,481.80 284.19,485.56 288.50,486.64 285.64,490.04 285.95,494.46 281.84,492.80 277.73,494.46 278.04,490.04 275.18,486.64 279.49,485.56" fill="#7a5518"/><polygon points="281.84,484.35 286.07,487.42 284.46,492.40 279.22,492.40 277.61,487.42" fill="#dc5f3c"/>
<text x="288.8" y="492.4">8:02pm</text>
<polygon points="358.44,481.80 360.79,485.56 365.10,486.64 362.24,490.04 362.55,494.46 358.44,492.80 354.33,494.46 354.64,490.04 351.78,486.64 356.09,485.56" fill="#7a5518"/><polygon points="358.44,484.35 362.67,487.42 361.06,492.40 355.82,492.40 354.21,487.42" fill="#dc5f3c"/>
<text x="365.4" y="492.4">8:02pm</text>
<polygon points="435.09,481.80 437.44,485.56 441.75,486.64 438.90,490.04 439.21,494.46 435.09,492.80 430.98,494.46 431.29,490.04 428.44,486.64 432.74,485.56" fill="#7a5518"/><polygon points="435.09,484.35 439.33,487.42 437.71,492.40 432.48,492.40 430.86,487.42" fill="#dc5f3c"/>
<text x="442.1" y="492.4">8:03pm</text>
<polygon points="511.69,481.80 514.04,485.56 518.35,486.64 515.50,490.04 515.81,494.46 511.69,492.80 507.58,494.46 507.89,490.04 505.04,486.64 509.34,485.56" fill="#7a5518"/><polygon points="511.69,484.35 515.93,487.42 514.31,492.40 509.08,492.40 507.46,487.42" fill="#dc5f3c"/>
<text x="518.7" y="492.4">8:03pm</text>
<polygon points="588.29,481.80 590.64,485.56 594.95,486.64 592.10,490.04 592.41,494.46 588.29,492.80 584.18,494.46 584.49,490.04 581.64,486.64 585.94,485.56" fill="#7a5518"/><polygon points="588.29,484.35 592.53,487.42 590.91,492.40 585.68,492.40 584.06,487.42" fill="#dc5f3c"/>
<text x="595.3" y="492.4">8:03pm</text>
<polygon points="664.95,481.80 667.30,485.56 671.60,486.64 668.75,490.04 669.06,494.46 664.95,492.80 660.83,494.46 661.14,490.04 658.29,486.64 662.59,485.56" fill="#7a5518"/><polygon points="664.95,484.35 669.18,487.42 667.56,492.40 662.33,492.40 660.71,487.42" fill="#dc5f3c"/>
<text x="671.9" y="492.4">8:04pm</text>
<circle cx="166.20" cy="501.8" r="5.0" fill="#ffffc8" stroke="#707070" stroke-width="1"/>
<text x="173.3" y="505.1">7:50am</text>
<circle cx="246.37" cy="501.8" r="5.0" fill="#ffffc8" stroke="#707070" stroke-width="1"/>
<text x="253.5" y="505.1">8:57am</text>
<circle cx="326.53" cy="501.8" r="5.0" fill="#ffffc8" stroke="#707070" stroke-width="1"/>
<text x="333.6" y="505.1">10:04am</text>
<circle cx="406.59" cy="501.8" r="5.0" fill="#ffffc8" stroke="#707070" stroke-width="1"/>
<text x="413.7" y="505.1">11:09am</text>
<circle cx="486.64" cy="501.8" r="5.0" fill="#ffffc8" stroke="#707070" stroke-width="1"/>
<text x="493.7" y="506.3">12:14pm</text>
<circle cx="566.60" cy="501.8" r="5.0" fill="#ffffc8" stroke="#707070" stroke-width="1"/>
<text x="573.7" y="506.3">1:17pm</text>
<circle cx="646.55" cy="501.8" r="5.0" fill="#ffffc8" stroke="#707070" stroke-width="1"/>
<text x="653.6" y="506.3">2:20pm</text>
<circle cx="131.20" cy="515.7" r="5.0" fill="#c8c8aa" stroke="#707070" stroke-width="1"/>
<text x="138.3" y="519.2">8:52pm</text>
<circle cx="210.46" cy="515.7" r="5.0" fill="#c8c8aa" stroke="#707070" stroke-width="1"/>
<text x="217.6" y="519.2">9:42pm</text>
<circle cx="289.51" cy="515.7" r="5.0" fill="#c8c8aa" stroke="#707070" stroke-width="1"/>
<text x="296.6" y="519.2">10:28pm</text>
<circle cx="368.39" cy="515.7" r="5.0" fill="#c8c8aa" stroke="#707070" stroke-width="1"/>
<text x="375.5" y="519.2">11:11pm</text>
<circle cx="447.17" cy="515.7" r="5.0" fill="#c8c8aa" stroke="#707070" stroke-width="1"/>
<text x="454.3" y="519.2">11:52pm</text>
<circle cx="525.85" cy="515.7" r="5.0" fill="#c8c8aa" stroke="#707070" stroke-width="1"/>
<text x="532.9" y="519.0">12:31am</text>
<circle cx="604.47" cy="515.7" r="5.0" fill="#c8c8aa" stroke="#707070" stroke-width="1"/>
<text x="611.6" y="519.0">1:09am</text>
<circle cx="683.20" cy="515.7" r="5.0" fill="#c8c8aa" stroke="#707070" stroke-width="1"/>
<text x="690.3" y="519.0">1:49am</text>
</g>
<g font-size="11">
<text x="46" y="479.4" text-anchor="end">Sunrise</text><text x="746.3" y="479.4">Sunrise</text>
<text x="46" y="492.9" text-anchor="end">Sunset</text><text x="746.3" y="492.9">Sunset</text>
<text x="46" y="505.9" text-anchor="end">Moonrise</text><text x="746.3" y="505.9">Moonrise</text>
<text x="46" y="519.6" text-anchor="end">Moonset</text><text x="746.3" y="519.6">Moonset</text>
</g>
<text x="485.1" y="532.4" font-size="9.3">First Quarter | 5:32am</text>
</svg></body></html>
